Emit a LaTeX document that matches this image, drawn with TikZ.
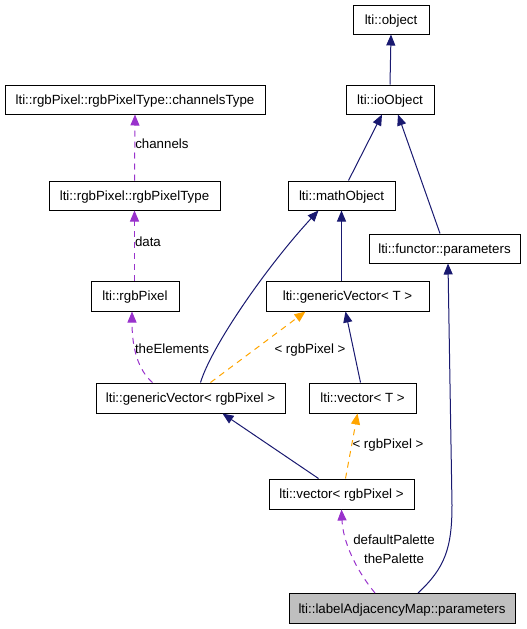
\documentclass[tikz,border=0pt]{standalone}
\usepackage{fontspec}
\setmainfont{Liberation Sans}
\usetikzlibrary{arrows.meta}
\definecolor{navyedge}{RGB}{25,25,112}
\definecolor{orchidedge}{RGB}{153,50,204}
\definecolor{orangeedge}{RGB}{255,165,0}
\definecolor{boxgray}{RGB}{191,191,191}
\tikzset{
	cls/.style={draw=black,line width=1pt,fill=white,minimum height=29pt,inner sep=0pt,text height=9.5pt,text depth=0pt,font=\fontsize{13.3}{15}\selectfont},
	inh/.style={navyedge,line width=1pt,-{Triangle[width=9pt,length=11pt]}},
	use/.style={orchidedge,line width=1pt,dash pattern=on 6pt off 5pt,-{Triangle[width=9pt,length=11pt]}},
	tmpl/.style={orangeedge,line width=1pt,dash pattern=on 6pt off 5pt,-{Triangle[width=9pt,length=11pt]}},
	lbl/.style={text=black,font=\fontsize{13.3}{15}\selectfont,inner sep=0pt}
}
\begin{document}
\begin{tikzpicture}[x=1pt,y=-1pt]
	\useasboundingbox (0,0) rectangle (527,629);
	\node[cls,minimum width=76pt] (obj) at (391,19.5) {lti::object};
	\node[cls,minimum width=88pt] (io) at (390,99.5) {lti::ioObject};
	\node[cls,minimum width=260pt] (chan) at (135,99.5) {lti::rgbPixel::rgbPixelType::channelsType};
	\node[cls,minimum width=171pt] (pixtype) at (134.5,195.5) {lti::rgbPixel::rgbPixelType};
	\node[cls,minimum width=107pt] (math) at (341.5,195.5) {lti::mathObject};
	\node[cls,minimum width=151pt] (functor) at (444.5,248.5) {lti::functor::parameters};
	\node[cls,minimum width=88pt,minimum height=30pt] (pix) at (135,296) {lti::rgbPixel};
	\node[cls,minimum width=163pt,minimum height=30pt] (genT) at (347.5,296) {lti::genericVector< T >};
	\node[cls,minimum width=189pt,minimum height=30pt] (genpix) at (190.5,398) {lti::genericVector< rgbPixel >};
	\node[cls,minimum width=107pt,minimum height=30pt] (vecT) at (362.5,398) {lti::vector< T >};
	\node[cls,minimum width=145pt,minimum height=30pt] (vecpix) at (341.5,494) {lti::vector< rgbPixel >};
	\node[cls,fill=boxgray,minimum width=226pt,minimum height=30pt] (lam) at (402,608.5) {lti::labelAdjacencyMap::parameters};
	\draw[inh] (io.north) -- (obj.south);
	\draw[inh] ([xshift=7pt]math.north) -- ([xshift=-8pt]io.south);
	\draw[inh] ([xshift=-4.5pt]functor.north) -- ([xshift=8pt]io.south);
	\draw[inh] (genT.north -| math.south) -- (math.south);
	\draw[inh] ([xshift=10pt]genpix.north) .. controls (212,345) and (268,265) .. ([xshift=-23pt]math.south);
	\draw[inh] ([xshift=-2pt]vecT.north) -- ([xshift=-2pt]genT.south);
	\draw[inh] ([xshift=-23pt]vecpix.north) -- ([xshift=32pt]genpix.south);
	\draw[inh] ([xshift=16pt]lam.north) .. controls (445,568) and (452,548) .. (452,505) -- ([xshift=3.5pt]functor.south);
	\draw[use] (pixtype.north) -- (chan.south) node[lbl,pos=0.55,anchor=west] (chanlbl) {channels};
	\draw[use] (pix.north -| pixtype.south) -- (pixtype.south) node[lbl,pos=0.55,anchor=west] (datalbl) {data};
	\draw[use] ([xshift=-38pt]genpix.north) .. controls (138,370) and (132,348) .. ([xshift=-3pt]pix.south);
	\node[lbl] (elemlbl) at (172,349) {theElements};
	\draw[tmpl] ([xshift=20pt]genpix.north) -- ([xshift=-42pt]genT.south);
	\node[lbl] (genlbl) at (310,350) {< rgbPixel >};
	\draw[tmpl] ([xshift=4pt]vecpix.north) -- ([xshift=-5pt]vecT.south);
	\node[lbl] (veclbl) at (388,445) {< rgbPixel >};
	\draw[use] ([xshift=-27pt]lam.north) .. controls (356,570) and (343,542) .. (vecpix.south);
	\node[lbl] (pallbl) at (394,540) {defaultPalette};
	\node[lbl] (thepallbl) at (394,559) {thePalette};
\end{tikzpicture}
\end{document}
